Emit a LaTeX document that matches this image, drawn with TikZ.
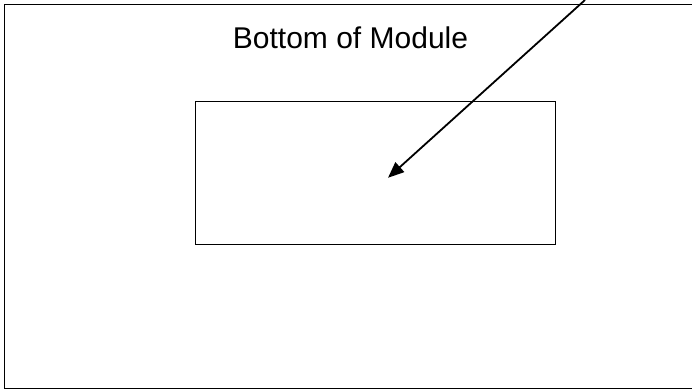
\documentclass[tikz,border=0pt]{standalone}
\usepackage{fontspec}
\setmainfont{Liberation Sans}
\usetikzlibrary{
    arrows.meta,
    positioning
}
\definecolor{ink}{RGB}{0,0,0}
\tikzset{
    line join=miter,
    frame/.style={
        draw=ink,
        line width=1.4pt
    },
    panel/.style={
        rectangle,
        draw=ink,
        line width=1.4pt,
        minimum width=360pt,
        minimum height=143pt,
        inner sep=0pt
    },
    caption/.style={
        font=\fontsize{30}{36}\selectfont,
        text=ink,
        inner sep=0pt
    },
    pointer/.style={
        -{Triangle[length=16pt,width=13pt]},
        draw=ink,
        line width=1.8pt
    }
}

\begin{document}
\begin{tikzpicture}[x=1pt, y=-1pt]

\useasboundingbox (0,0) rectangle (692,390);

% Module outline (right side runs off the page)
\draw[frame] (692,4.7) -- (4.5,4.7) -- (4.5,388.7) -- (692,388.7);

\node[caption, anchor=base] (title) at (350.5,49) {Bottom of Module};

% Area on the bottom
\node[panel] (area) at (375.5,172.8) {};

% Pointer into the area
\coordinate (from) at (585,0);
\coordinate (spot) at ([xshift=12.5pt, yshift=-5pt]area.center);
\draw[pointer] (from) -- (spot);

\end{tikzpicture}
\end{document}
